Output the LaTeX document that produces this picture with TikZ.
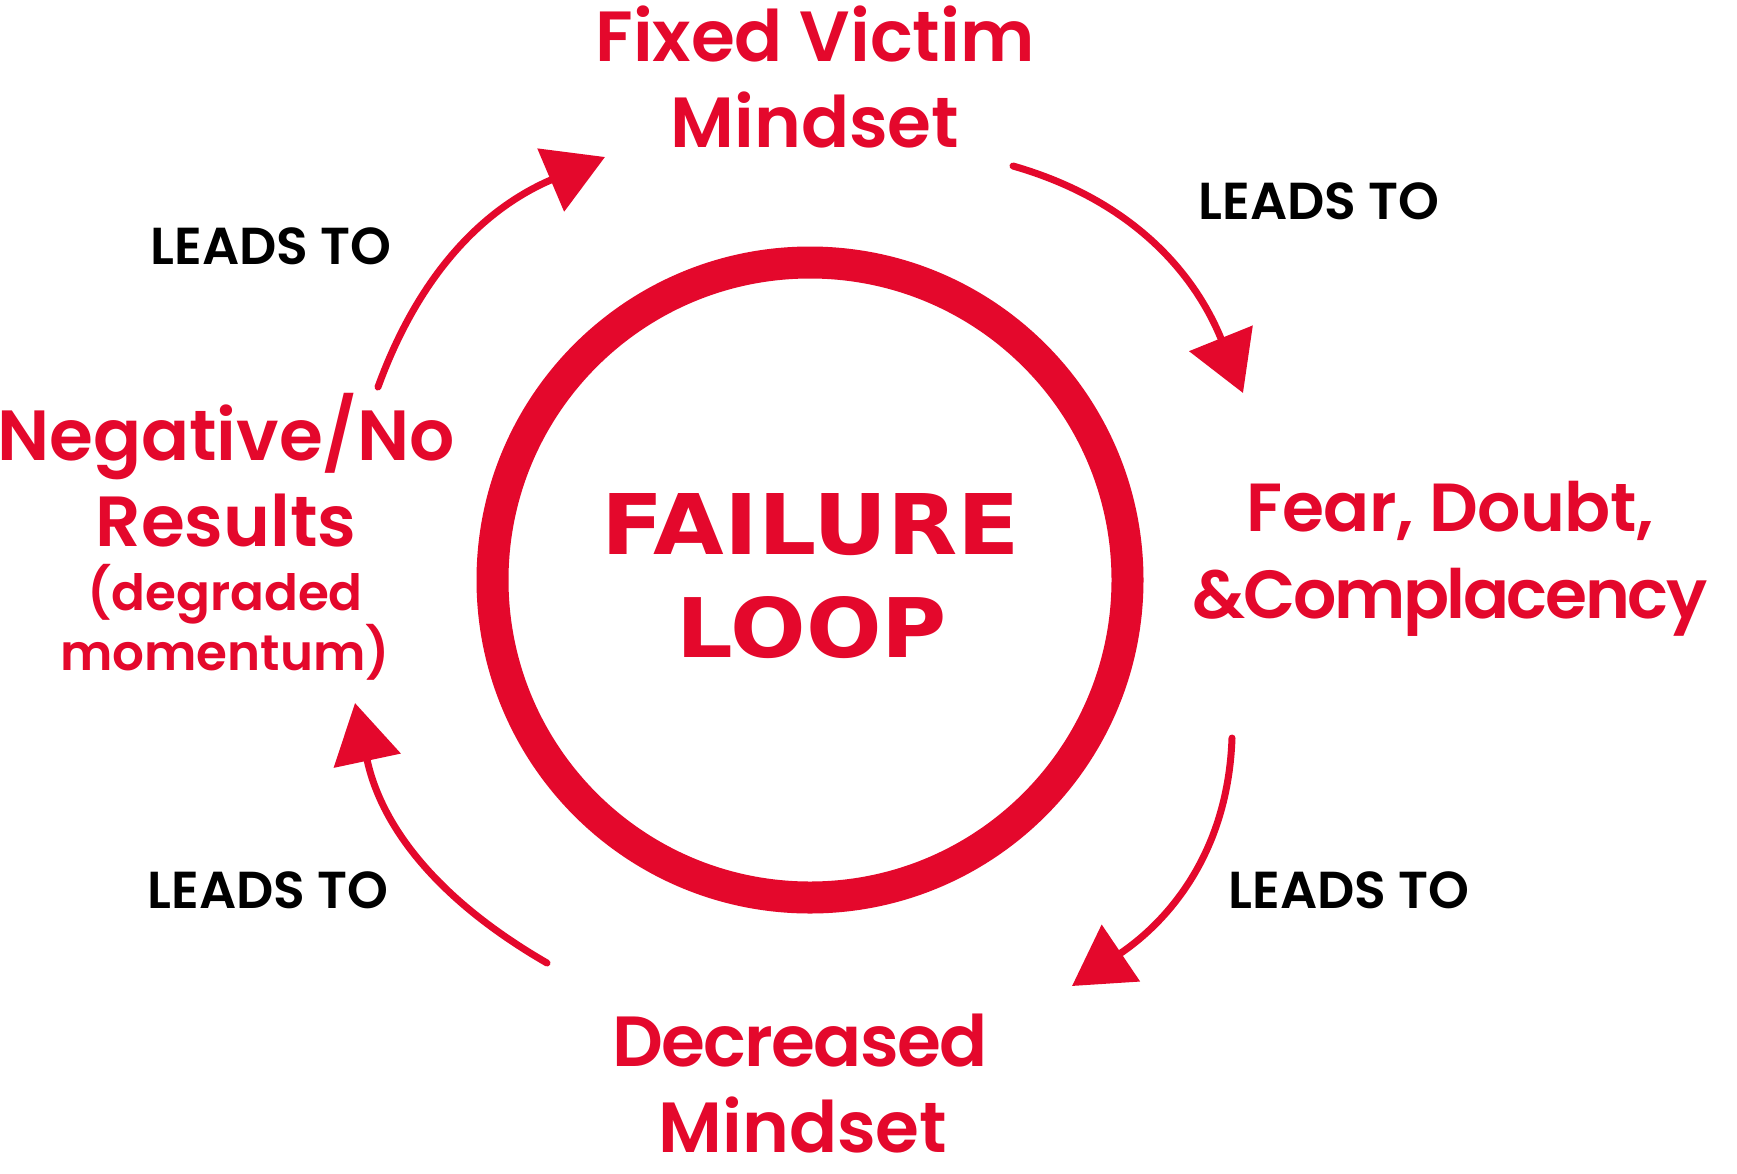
\documentclass[tikz,border=0pt]{standalone}
\usepackage{fontspec}
\setmainfont{Poppins}[BoldFont={* SemiBold}]
\newfontfamily\loopfont{DejaVu Sans}
\usetikzlibrary{arrows.meta}
\definecolor{loopred}{RGB}{228,8,44}
\newcommand{\tighten}[1]{\addfontfeatures{LetterSpace=#1}}
\tikzset{
  bigtxt/.style={anchor=base,inner sep=0pt,text=loopred,font=\bfseries\fontsize{71}{71}\selectfont},
  midtxt/.style={anchor=base,inner sep=0pt,text=loopred,font=\bfseries\fontsize{68}{68}\selectfont},
  smalltxt/.style={anchor=base,inner sep=0pt,text=loopred,font=\bfseries\fontsize{50}{50}\selectfont},
  leads/.style={anchor=base,inner sep=0pt,text=black,font=\bfseries\fontsize{52}{52}\selectfont},
  flow/.style={draw=loopred,line width=7pt,line cap=round,-{Triangle[length=59pt,width=67pt]}},
  ring/.style={draw=loopred,line width=32pt},
  looptxt/.style={anchor=base,inner sep=0pt,text=loopred,font=\loopfont\bfseries}
}
\begin{document}
\begin{tikzpicture}[x=1pt,y=-1pt]
\useasboundingbox[fill=white] (0,0) rectangle (1737,1173);
% ring
\coordinate (c) at (810,580);
\draw[ring] (c) circle[radius=317.5];
% centre title
\node[looptxt] (fail) at (811,554) {\resizebox{418pt}{61pt}{FAILURE}};
\node[looptxt] (loop) at (812,657) {\resizebox{270pt}{61pt}{LOOP}};
% stage labels
\node[bigtxt] (fv1) at (815,61) {Fixed Victim};
\node[bigtxt] (fv2) at (815,147) {Mindset};
\node[midtxt] (fd1) at (1450,531) {\tighten{-0.8}Fear, Doubt,};
\node[midtxt] (fd2) at (1450,618) {\tighten{-3.5}\&Complacency};
\node[bigtxt] (dm1) at (800,1066) {\tighten{-2.5}Decreased};
\node[bigtxt] (dm2) at (803,1152) {Mindset};
\node[bigtxt] (nr1) at (226,460) {Negative/No};
\node[bigtxt] (nr2) at (226,546) {Results};
\node[smalltxt] (nr3) at (225,610) {(degraded};
\node[smalltxt] (nr4) at (225,670) {momentum)};
% leads to labels
\node[leads] (l1) at (271,264) {LEADS TO};
\node[leads] (l2) at (1319,219) {LEADS TO};
\node[leads] (l3) at (1349,908) {LEADS TO};
\node[leads] (l4) at (268,908) {LEADS TO};
% arrow end points
\coordinate (a1s) at (378,387);
\coordinate (a1e) at (605,157);
\coordinate (a2s) at (1013,166);
\coordinate (a2e) at (1243,393);
\coordinate (a3s) at (1232,738);
\coordinate (a3e) at (1072,986);
\coordinate (a4s) at (547,963);
\coordinate (a4e) at (355,703);
\draw[flow] (a1s) to[out=70,in=203] (a1e);
\draw[flow] (a2s) to[out=-16,in=112] (a2e);
\draw[flow] (a3s) to[out=-92,in=34] (a3e);
\draw[flow] (a4s) to[out=150,in=-78] (a4e);
\end{tikzpicture}
\end{document}
